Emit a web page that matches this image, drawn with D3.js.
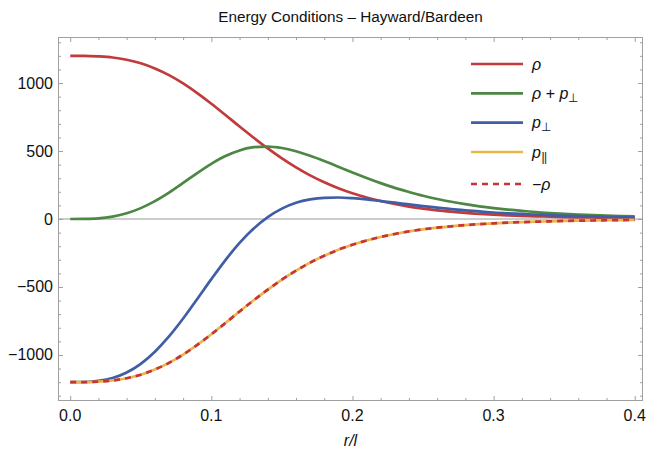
<!DOCTYPE html>
<html>
<head>
<meta charset="utf-8">
<script src="https://cdn.jsdelivr.net/npm/d3@7"></script>
<style>
  body { margin: 0; background: #fff; }
  svg text { font-family: "Liberation Sans", Arial, sans-serif; }
</style>
</head>
<body>
<div id="chart"></div>
<script>
// r/l sample points and curve values
var rVals = [0.00, 0.01, 0.02, 0.03, 0.04, 0.05, 0.06, 0.07, 0.08, 0.09,
             0.10, 0.11, 0.12, 0.13, 0.14, 0.15, 0.16, 0.17, 0.18, 0.19,
             0.20, 0.21, 0.22, 0.23, 0.24, 0.25, 0.26, 0.27, 0.28, 0.29,
             0.30, 0.31, 0.32, 0.33, 0.34, 0.35, 0.36, 0.37, 0.38, 0.39, 0.40];

var rho = [1200, 1200, 1196, 1188, 1171, 1145, 1107, 1058, 997, 926,
           848, 765, 680, 598, 519, 446, 380, 321, 270, 226,
           189, 158, 132, 110, 91, 76, 64, 54, 45, 38,
           32, 27, 23, 20, 17, 14, 12, 11, 9, 8, 7];

var rhoPlusPerp = [0, 1, 5, 18, 42, 80, 131, 194, 265, 338,
                   406, 463, 504, 528, 533, 522, 498, 465, 426, 384,
                   342, 302, 264, 229, 199, 171, 147, 127, 109, 93,
                   80, 69, 60, 51, 44, 38, 33, 29, 25, 22, 19];

var pPerp = [-1200, -1199, -1191, -1170, -1129, -1065, -976, -864, -732, -588,
             -442, -302, -176, -70, 14, 76, 119, 144, 156, 158,
             153, 144, 132, 120, 107, 95, 84, 73, 64, 56,
             48, 42, 37, 32, 28, 24, 21, 18, 16, 14, 12];

var pPar = [-1200, -1200, -1196, -1188, -1171, -1145, -1107, -1058, -997, -926,
            -848, -765, -680, -598, -519, -446, -380, -321, -270, -226,
            -189, -158, -132, -110, -91, -76, -64, -54, -45, -38,
            -32, -27, -23, -20, -17, -14, -12, -11, -9, -8, -7];

var negRho = [-1200, -1200, -1196, -1188, -1171, -1145, -1107, -1058, -997, -926,
              -848, -765, -680, -598, -519, -446, -380, -321, -270, -226,
              -189, -158, -132, -110, -91, -76, -64, -54, -45, -38,
              -32, -27, -23, -20, -17, -14, -12, -11, -9, -8, -7];

var xTicks = [0, 0.1, 0.2, 0.3, 0.4];
var yTicks = [-1000, -500, 0, 500, 1000];

var width = 646, height = 451;
var plot = {left: 58.5, right: 642.5, top: 37.5, bottom: 400.5};

var x = d3.scaleLinear()
    .domain([-0.0083, 0.4055])
    .range([plot.left, plot.right]);

var y = d3.scaleLinear()
    .domain([-1335, 1335])
    .range([plot.bottom, plot.top]);

var svg = d3.select("#chart")
  .append("svg")
    .attr("width", width)
    .attr("height", height);

var frameColor = "#a0a0a0";

// zero axis
svg.append("line")
    .attr("x1", plot.left).attr("x2", plot.right)
    .attr("y1", y(0)).attr("y2", y(0))
    .attr("stroke", "#808080")
    .attr("stroke-width", 0.8);

// ticks on all four sides, pointing in
var xMinor = d3.range(0, 0.41, 0.02).filter(function(v) { return Math.abs(v * 10 - Math.round(v * 10)) > 1e-6; });
var yMinor = d3.range(-1300, 1301, 100).filter(function(v) { return v % 500 !== 0; });

function tickSet(axisFn, scale, vals, size, pos) {
  var g = svg.append("g")
      .attr("transform", pos)
      .call(axisFn(scale).tickValues(vals).tickSize(size).tickSizeOuter(0).tickFormat(""));
  g.select(".domain").remove();
  g.selectAll("line").attr("stroke", frameColor);
  return g;
}

tickSet(d3.axisBottom, x, xTicks, -4.5, "translate(0," + plot.bottom + ")");
tickSet(d3.axisBottom, x, xMinor, -2.5, "translate(0," + plot.bottom + ")");
tickSet(d3.axisTop, x, xTicks, -4.5, "translate(0," + plot.top + ")");
tickSet(d3.axisTop, x, xMinor, -2.5, "translate(0," + plot.top + ")");
tickSet(d3.axisLeft, y, yTicks, -4.5, "translate(" + plot.left + ",0)");
tickSet(d3.axisLeft, y, yMinor, -2.5, "translate(" + plot.left + ",0)");
tickSet(d3.axisRight, y, yTicks, -4.5, "translate(" + plot.right + ",0)");
tickSet(d3.axisRight, y, yMinor, -2.5, "translate(" + plot.right + ",0)");

// frame
svg.append("rect")
    .attr("x", plot.left)
    .attr("y", plot.top)
    .attr("width", plot.right - plot.left)
    .attr("height", plot.bottom - plot.top)
    .attr("fill", "none")
    .attr("stroke", frameColor)
    .attr("stroke-width", 1);

// tick labels
svg.append("g").selectAll("text")
    .data(xTicks)
    .enter()
  .append("text")
    .attr("x", function(d) { return x(d); })
    .attr("y", 421)
    .attr("text-anchor", "middle")
    .attr("font-size", 16)
    .attr("fill", "#111")
    .text(function(d) { return d3.format(".1f")(d); });

svg.append("g").selectAll("text")
    .data(yTicks)
    .enter()
  .append("text")
    .attr("x", 53)
    .attr("y", function(d) { return y(d) + 5.5; })
    .attr("text-anchor", "end")
    .attr("font-size", 16)
    .attr("fill", "#111")
    .text(function(d) { return d < 0 ? "\u2212" + Math.abs(d) : d; });

// title and axis label
svg.append("text")
    .attr("x", (plot.left + plot.right) / 2)
    .attr("y", 22)
    .attr("text-anchor", "middle")
    .attr("font-size", 15.3)
    .attr("fill", "#111")
    .text("Energy Conditions \u2013 Hayward/Bardeen");

svg.append("text")
    .attr("x", (plot.left + plot.right) / 2)
    .attr("y", 446)
    .attr("text-anchor", "middle")
    .attr("font-size", 16)
    .attr("font-style", "italic")
    .attr("fill", "#111")
    .text("r/l");

// curves
var series = [
  {name: "rho",   values: rho,         color: "#c23b3c", dash: null},
  {name: "sum",   values: rhoPlusPerp, color: "#4c8743", dash: null},
  {name: "perp",  values: pPerp,       color: "#3f5ea6", dash: null},
  {name: "par",   values: pPar,        color: "#e8b746", dash: null},
  {name: "neg",   values: negRho,      color: "#c8343c", dash: "6,5"}
];

svg.append("clipPath")
    .attr("id", "clip")
  .append("rect")
    .attr("x", plot.left).attr("y", plot.top)
    .attr("width", plot.right - plot.left)
    .attr("height", plot.bottom - plot.top);

var line = d3.line()
    .x(function(d, i) { return x(rVals[i]); })
    .y(function(d) { return y(d); })
    .curve(d3.curveMonotoneX);

svg.append("g")
    .attr("clip-path", "url(#clip)")
    .selectAll("path")
    .data(series)
    .enter()
  .append("path")
    .attr("fill", "none")
    .attr("stroke", function(d) { return d.color; })
    .attr("stroke-width", 2.7)
    .attr("stroke-dasharray", function(d) { return d.dash; })
    .attr("d", function(d) { return line(d.values); });

// legend
var legendRows = [64, 93.3, 122.7, 152, 184];
var legend = svg.append("g")
    .selectAll("g")
    .data(series)
    .enter()
  .append("g")
    .attr("transform", function(d, i) { return "translate(471," + legendRows[i] + ")"; });

legend.append("line")
    .attr("x1", 0).attr("x2", 52)
    .attr("stroke", function(d) { return d.color; })
    .attr("stroke-width", 2.7)
    .attr("stroke-dasharray", function(d) { return d.dash; });

var labels = legend.append("text")
    .attr("x", 61)
    .attr("y", 5.5)
    .attr("font-size", 16)
    .attr("font-style", "italic")
    .attr("fill", "#111");

labels.each(function(d) {
  var t = d3.select(this);
  if (d.name === "rho") {
    t.text("\u03c1");
  } else if (d.name === "sum") {
    t.append("tspan").text("\u03c1 + p");
    t.append("tspan").attr("font-size", 11.5).attr("dy", 3).attr("font-style", "normal").text("\u22a5");
  } else if (d.name === "perp") {
    t.append("tspan").text("p");
    t.append("tspan").attr("font-size", 11.5).attr("dy", 3).attr("font-style", "normal").text("\u22a5");
  } else if (d.name === "par") {
    t.append("tspan").text("p");
    t.append("tspan").attr("font-size", 12).attr("dy", 3).attr("dx", 0.5)
        .attr("font-style", "normal").attr("letter-spacing", -0.5).text("||");
  } else {
    t.text("\u2212\u03c1");
  }
});
</script>
</body>
</html>
